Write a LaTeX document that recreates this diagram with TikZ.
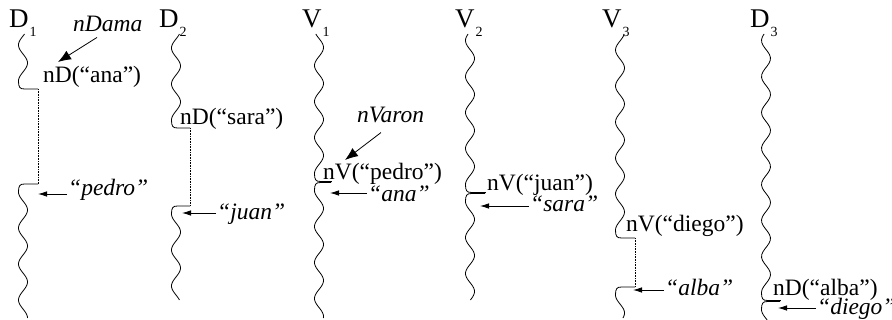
\documentclass[tikz,border=0pt]{standalone}
\usepackage{fontspec}
\setmainfont{Liberation Serif}
\usetikzlibrary{arrows.meta}
% #1 centre x, #2 upper step y, #3 dotted x, #4 lower step y, #5 end y
\newcommand\lifeline[5]{%
  \pgfmathsetmacro\lfA{#2-8}%
  \pgfmathsetmacro\lfB{#4+8}%
  \pgfmathsetmacro\lfL{#1-4.5}%
  \draw[lline] plot[domain=34:\lfA,samples=90,smooth] ({#1-4.5*cos(10*(\x-\lfA))},\x)
     .. controls (\lfL,#2-2) and (\lfL+1,#2) .. (\lfL+6,#2) -- (#3,#2);
  \draw[dots] (#3,#2) -- (#3,#4);
  \draw[lline] (#3,#4) -- (\lfL+6,#4) .. controls (\lfL+1,#4) and (\lfL,#4+2) .. (\lfL,\lfB)
     -- plot[domain=\lfB:#5,samples=90,smooth] ({#1-4.5*cos(10*(\x-\lfB))},\x);
}
\newcommand\lbltext[2]{#1\hspace{1pt}\raisebox{-9pt}{\fontsize{14}{14}\selectfont #2}}
\begin{document}
\begin{tikzpicture}[x=1pt,y=-1pt,
  lline/.style={line width=0.8pt},
  dots/.style={line width=0.6pt,dash pattern=on 0.7pt off 0.9pt},
  txt/.style={inner sep=0pt,anchor=base west,font=\fontsize{23.5}{23.5}\selectfont},
  itx/.style={inner sep=0pt,anchor=base west,font=\fontsize{23.5}{23.5}\selectfont\itshape},
  lbl/.style={inner sep=0pt,anchor=base west,font=\fontsize{27}{27}\selectfont},
  bigarr/.style={line width=0.8pt,-{Latex[length=13pt,width=10pt]}},
  smarr/.style={line width=0.8pt,-{Latex[length=9pt,width=5.5pt]}}]
\useasboundingbox (0,0) rectangle (892,320);

% lifelines
\lifeline{23}{89}{38}{184}{318}
\lifeline{176}{128}{190}{206}{300}
\lifeline{319}{181.5}{331}{182.5}{318}
\lifeline{470}{192.5}{485}{193.5}{300}
\lifeline{620}{238}{635}{287}{318}
\lifeline{766}{300.5}{780}{301.5}{320}

% process labels
\node[lbl] (D1) at (9,28) {\lbltext{D}{1}};
\node[lbl] (D2) at (159,28) {\lbltext{D}{2}};
\node[lbl] (V1) at (302,28) {\lbltext{V}{1}};
\node[lbl] (V2) at (455,28) {\lbltext{V}{2}};
\node[lbl] (V3) at (602,28) {\lbltext{V}{3}};
\node[lbl] (D3) at (750,28) {\lbltext{D}{3}};

% texts
\node[itx] (nDama) at (73,32) {nDama};
\node[txt] (ana) at (43,83) {nD(“ana”)};
\node[itx] (pedro) at (68,196) {“pedro”};
\node[txt] (sara) at (180,125) {nD(“sara”)};
\node[itx] (juan) at (217,220) {“juan”};
\node[itx] (nVaron) at (357,123) {nVaron};
\node[txt] (vpedro) at (323,180) {nV(“pedro”)};
\node[itx] (iana) at (368,202) {“ana”};
\node[txt] (vjuan) at (487,191) {nV(“juan”)};
\node[itx] (isara) at (530,212) {“sara”};
\node[txt] (vdiego) at (626,232) {nV(“diego”)};
\node[itx] (ialba) at (665,296) {“alba”};
\node[txt] (dalba) at (773,296) {nD(“alba”)};
\node[itx] (idiego) at (817,315) {“diego”};

% arrow tips
\coordinate (tA) at (58,62);
\coordinate (tV) at (345,160);
\coordinate (tP) at (38,194);
\coordinate (tJ) at (182,213);
\coordinate (tN) at (330,193);
\coordinate (tS) at (480,206);
\coordinate (tL) at (633,290);
\coordinate (tG) at (778,308);

\draw[bigarr] ([xshift=24pt,yshift=-5pt]nDama.south west) -- (tA);
\draw[bigarr] ([xshift=24pt,yshift=-9pt]nVaron.south west) -- (tV);
\draw[smarr] ([xshift=-1pt]pedro.west |- tP) -- (tP);
\draw[smarr] ([xshift=-1pt]juan.west |- tJ) -- (tJ);
\draw[smarr] ([xshift=-1pt]iana.west |- tN) -- (tN);
\draw[smarr] ([xshift=-1pt]isara.west |- tS) -- (tS);
\draw[smarr] ([xshift=-1pt]ialba.west |- tL) -- (tL);
\draw[smarr] ([xshift=-1pt]idiego.west |- tG) -- (tG);
\end{tikzpicture}
\end{document}
